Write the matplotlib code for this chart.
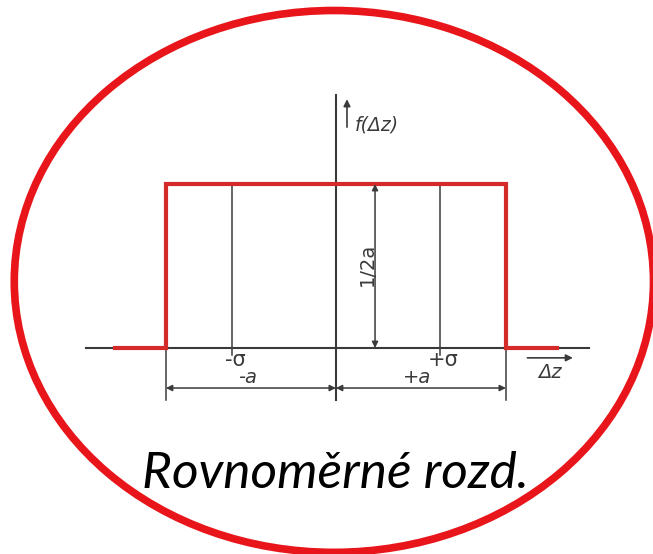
import numpy as np
import matplotlib.pyplot as plt
from matplotlib.patches import Ellipse

# uniform distribution on <-a, +a>, density 1/2a
a = 1.0
density = 1 / (2 * a)
sigma = 0.61
x_dist = [-1.30, -a, -a, a, a, 1.30]
y_dist = [0, 0, density, density, 0, 0]
sigma_pos = [-sigma, sigma]
sigma_labels = ['-σ', '+σ']
a_labels = ['-a', '+a']
title = 'Rovnoměrné rozd.'

ink = '#3a3a3a'
red = '#d42a2a'

fig = plt.figure(figsize=(6.53, 5.54), dpi=100)
ax = fig.add_axes([0, 0, 1, 1])
ax.set_xlim(-1.976, 1.865)
ax.set_ylim(-0.628, 1.061)
ax.axis('off')

# outer ellipse
ax.add_patch(Ellipse((-0.012, 0.203), 3.76, 1.652, fill=False,
                     edgecolor='#e8161b', linewidth=5.5, zorder=1))

# axes
ax.plot([-1.47, 1.49], [0, 0], color=ink, lw=1.5, zorder=2)
ax.plot([0, 0], [-0.16, 0.77], color=ink, lw=1.5, zorder=2)
ax.annotate('', xy=(0.065, 0.767), xytext=(0.065, 0.665),
            arrowprops=dict(arrowstyle='-|>', color=ink, lw=1.2, mutation_scale=10))
ax.text(0.11, 0.68, 'f(Δz)', style='italic', fontsize=13.5, color=ink,
        ha='left', va='center')
ax.annotate('', xy=(1.41, -0.03), xytext=(1.11, -0.03),
            arrowprops=dict(arrowstyle='-|>', color=ink, lw=1.2, mutation_scale=10))
ax.text(1.26, -0.047, 'Δz', style='italic', fontsize=14, color=ink,
        ha='center', va='top')

# sigma lines
for xs, lab in zip(sigma_pos, sigma_labels):
    ax.plot([xs, xs], [-0.02, density], color=ink, lw=1.1, zorder=2)
    ax.text(xs + 0.02, -0.005, lab, fontsize=15, color=ink, ha='center', va='top')

# density curve
ax.plot(x_dist, y_dist, color=red, lw=3, solid_joinstyle='miter', zorder=3)

# dimension lines for a
for xe in [-a, a]:
    ax.plot([xe, xe], [0, -0.16], color=ink, lw=1.1, zorder=2)
for (x0, x1), lab in zip([(-a, 0), (0, a)], a_labels):
    ax.annotate('', xy=(x0, -0.122), xytext=(x1, -0.122),
                arrowprops=dict(arrowstyle='<|-|>', color=ink, lw=1.1,
                                mutation_scale=9, shrinkA=0, shrinkB=0))
    ax.text((x0 + x1) / 2 - 0.02, -0.09, lab, style='italic', fontsize=14,
            color=ink, ha='center', va='center')

# height 1/2a
ax.annotate('', xy=(0.23, density), xytext=(0.23, 0),
            arrowprops=dict(arrowstyle='<|-|>', color=ink, lw=1.1,
                            mutation_scale=9, shrinkA=0, shrinkB=0))
ax.text(0.185, 0.255, '1/2a', rotation=90, fontsize=14, color=ink,
        ha='center', va='center')

ax.text(-0.005, -0.385, title, style='italic', fontsize=37, color='black',
        family='Lato', ha='center', va='center')

fig.savefig('out.png', dpi=100)
